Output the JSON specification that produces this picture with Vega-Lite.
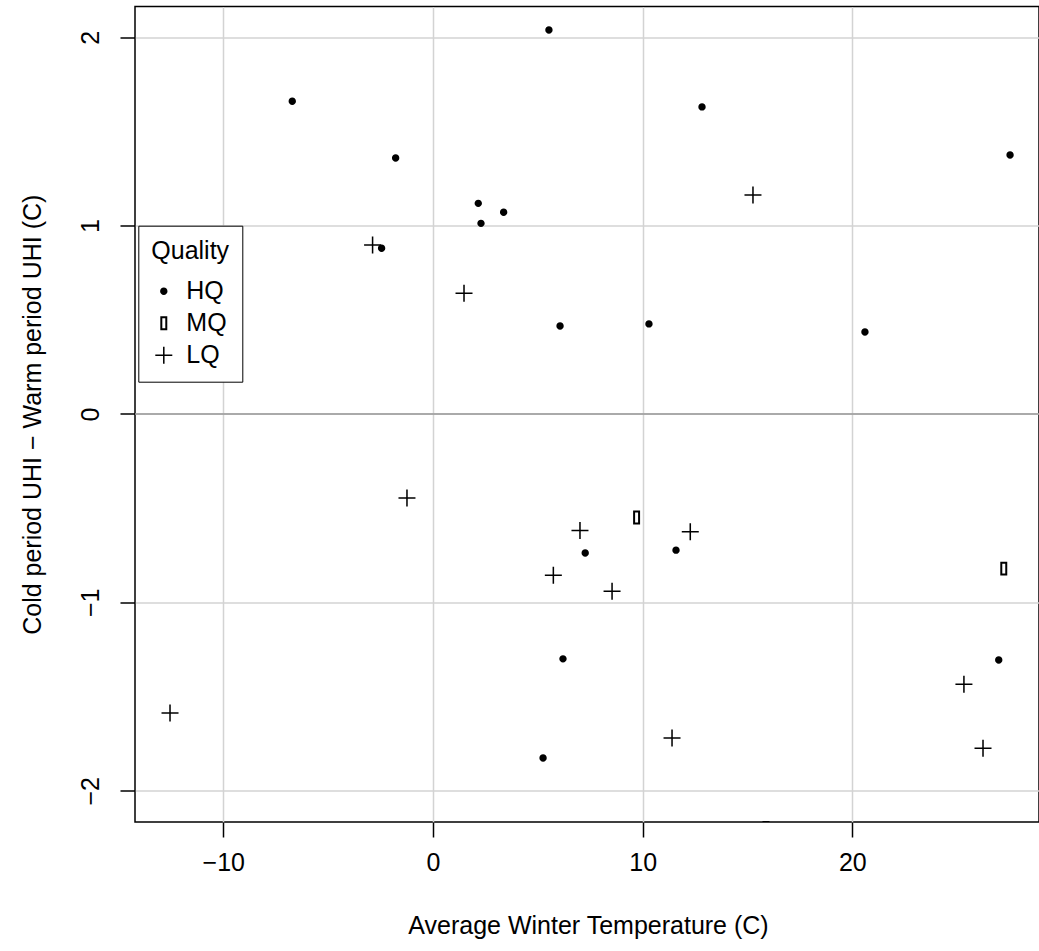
{
  "$schema": "https://vega.github.io/schema/vega-lite/v6.json",
  "width": 904,
  "height": 815.5,
  "autosize": {"type": "none"},
  "padding": {"left": 135, "top": 6.5, "right": 0, "bottom": 129},
  "background": "white",
  "config": {
    "view": {"stroke": "black", "strokeWidth": 1.5},
    "font": "Liberation Sans"
  },
  "layer": [
    {
      "data": {"values": [{"h": 0}]},
      "mark": {"type": "rule", "color": "#999999", "strokeWidth": 1.5},
      "encoding": {
        "y": {"datum": 0, "type": "quantitative"}
      }
    },
    {
      "data": {"values": [
        {"temp": -6.71, "diff": 1.660, "quality": "HQ"},
        {"temp": -1.78, "diff": 1.359, "quality": "HQ"},
        {"temp": -2.45, "diff": 0.880, "quality": "HQ"},
        {"temp": 2.16, "diff": 1.118, "quality": "HQ"},
        {"temp": 2.29, "diff": 1.012, "quality": "HQ"},
        {"temp": 3.37, "diff": 1.071, "quality": "HQ"},
        {"temp": 5.53, "diff": 2.038, "quality": "HQ"},
        {"temp": 12.83, "diff": 1.630, "quality": "HQ"},
        {"temp": 27.52, "diff": 1.375, "quality": "HQ"},
        {"temp": 6.06, "diff": 0.467, "quality": "HQ"},
        {"temp": 10.30, "diff": 0.478, "quality": "HQ"},
        {"temp": 20.60, "diff": 0.435, "quality": "HQ"},
        {"temp": 7.26, "diff": -0.738, "quality": "HQ"},
        {"temp": 11.59, "diff": -0.723, "quality": "HQ"},
        {"temp": 6.20, "diff": -1.300, "quality": "HQ"},
        {"temp": 5.25, "diff": -1.826, "quality": "HQ"},
        {"temp": 26.98, "diff": -1.306, "quality": "HQ"},
        {"temp": 9.71, "diff": -0.550, "quality": "MQ"},
        {"temp": 27.22, "diff": -0.821, "quality": "MQ"},
        {"temp": 15.88, "diff": -2.198, "quality": "MQ"},
        {"temp": -2.88, "diff": 0.897, "quality": "LQ"},
        {"temp": 1.48, "diff": 0.641, "quality": "LQ"},
        {"temp": 15.26, "diff": 1.162, "quality": "LQ"},
        {"temp": -1.24, "diff": -0.446, "quality": "LQ"},
        {"temp": 7.01, "diff": -0.619, "quality": "LQ"},
        {"temp": 5.74, "diff": -0.856, "quality": "LQ"},
        {"temp": 8.54, "diff": -0.941, "quality": "LQ"},
        {"temp": 12.27, "diff": -0.625, "quality": "LQ"},
        {"temp": 11.40, "diff": -1.720, "quality": "LQ"},
        {"temp": -12.54, "diff": -1.587, "quality": "LQ"},
        {"temp": 25.32, "diff": -1.435, "quality": "LQ"},
        {"temp": 26.23, "diff": -1.774, "quality": "LQ"}
      ]},
      "mark": {"type": "point", "filled": true, "color": "black", "size": 289, "opacity": 1, "clip": true},
      "encoding": {
        "x": {
          "field": "temp", "type": "quantitative",
          "scale": {"domain": [-14.21, 28.90], "nice": false, "zero": false},
          "axis": {
            "title": "Average Winter Temperature (C)",
            "values": [-10, 0, 10, 20],
            "format": "d",
            "grid": true, "gridColor": "#d3d3d3", "gridWidth": 1.5,
            "domain": false,
            "ticks": true, "tickColor": "black", "tickSize": 15, "tickWidth": 1.5,
            "labelFont": "Liberation Sans", "labelFontSize": 25, "labelColor": "black",
            "labelBaseline": "middle", "labelAlign": "center", "labelPadding": 25,
            "labelFlush": false, "labelOverlap": false,
            "titleFont": "Liberation Sans", "titleFontSize": 25, "titleFontWeight": "normal", "titleColor": "black",
            "titleBaseline": "middle", "titleAlign": "center", "titleX": 453, "titleY": 103
          }
        },
        "y": {
          "field": "diff", "type": "quantitative",
          "scale": {"domain": [-2.166, 2.163], "nice": false, "zero": false},
          "axis": {
            "title": "Cold period UHI − Warm period UHI (C)",
            "values": [-2, -1, 0, 1, 2],
            "format": "d",
            "grid": true, "gridColor": "#d3d3d3", "gridWidth": 1.5,
            "domain": false,
            "ticks": true, "tickColor": "black", "tickSize": 15, "tickWidth": 1.5,
            "labelFont": "Liberation Sans", "labelFontSize": 25, "labelColor": "black",
            "labelAngle": -90, "labelBaseline": "middle", "labelAlign": "center", "labelPadding": 30,
            "labelFlush": false, "labelOverlap": false,
            "titleFont": "Liberation Sans", "titleFontSize": 25, "titleFontWeight": "normal", "titleColor": "black",
            "titleAngle": -90, "titleBaseline": "middle", "titleAlign": "center", "titleX": -103, "titleY": 407.75
          }
        },
        "shape": {
          "field": "quality", "type": "nominal",
          "scale": {
            "domain": ["HQ", "MQ", "LQ"],
            "range": [
              "M-0.435,0A0.435,0.435,0,1,1,0.435,0A0.435,0.435,0,1,1,-0.435,0Z",
              "M-0.41,-0.82H0.41V0.82H-0.41ZM-0.175,-0.585V0.585H0.175V-0.585Z",
              "M-1,-0.09H1V0.09H-1ZM-0.09,-1H0.09V1H-0.09Z"
            ]
          },
          "legend": {
            "title": "Quality",
            "orient": "none", "legendX": 3.3, "legendY": 219.2,
            "strokeColor": "black", "fillColor": "white",
            "padding": 13,
            "titleFont": "Liberation Sans", "titleFontSize": 25, "titleFontWeight": "normal", "titleColor": "black",
            "titlePadding": 15,
            "labelFont": "Liberation Sans", "labelFontSize": 25, "labelColor": "black",
            "labelOffset": 10,
            "rowPadding": 6,
            "symbolSize": 289, "symbolFillColor": "black", "symbolStrokeWidth": 0, "symbolOpacity": 1
          }
        }
      }
    }
  ]
}
